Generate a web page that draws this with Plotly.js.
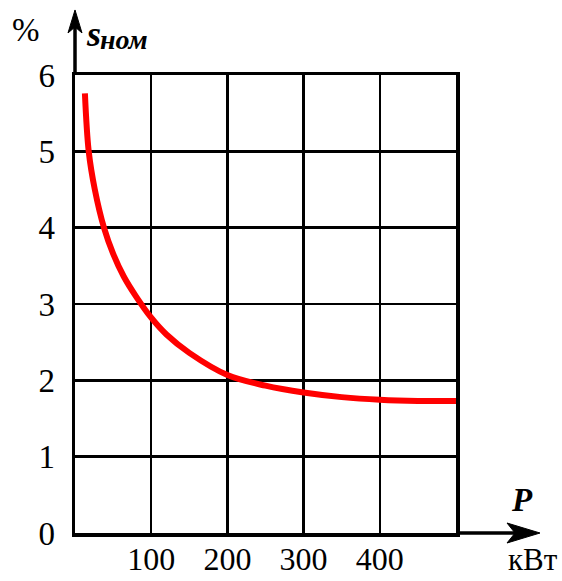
<!DOCTYPE html>
<html>
<head>
<meta charset="utf-8">
<script src="https://cdn.plot.ly/plotly-3.0.1.min.js"></script>
<style>
  html, body { margin: 0; padding: 0; background: #fff; }
  #chart { width: 562px; height: 581px; }
</style>
</head>
<body>
<div id="chart"></div>
<script>
// Data
const powerKW = [13, 18, 26, 38, 50, 64, 80, 100, 120, 150, 200, 250, 300, 350, 400, 450, 500];
const slipPct = [5.76, 5.0, 4.5, 4.0, 3.66, 3.36, 3.1, 2.82, 2.6, 2.36, 2.07, 1.93, 1.84, 1.78, 1.745, 1.73, 1.73];
const xTickVals = [100, 200, 300, 400, 500];
const xTickText = ['100', '200', '300', '400', ''];
const yTickVals = [0, 1, 2, 3, 4, 5, 6];
const yTickText = ['0', '1', '2', '3', '4', '5', '6'];

const serif = 'Liberation Serif, Times New Roman, serif';

const trace = {
  x: powerKW,
  y: slipPct,
  type: 'scatter',
  mode: 'lines',
  line: { color: '#ff0000', width: 6, shape: 'spline', smoothing: 1 },
  hoverinfo: 'skip'
};

const layout = {
  width: 562,
  height: 581,
  margin: { l: 75, r: 106, t: 75, b: 48 },
  paper_bgcolor: '#ffffff',
  plot_bgcolor: '#ffffff',
  showlegend: false,
  xaxis: {
    range: [0, 500],
    tickmode: 'array',
    tickvals: xTickVals,
    ticktext: xTickText,
    showgrid: true,
    gridcolor: '#000000',
    gridwidth: 2.5,
    zeroline: false,
    showline: true,
    linecolor: '#000000',
    linewidth: 3.5,
    mirror: true,
    ticks: '',
    ticklabelstandoff: -5,
    tickfont: { family: serif, size: 32, color: '#000' },
    fixedrange: true
  },
  yaxis: {
    range: [0, 6],
    tickmode: 'array',
    tickvals: yTickVals,
    ticktext: yTickText,
    showgrid: true,
    gridcolor: '#000000',
    gridwidth: 2.5,
    zeroline: false,
    showline: true,
    linecolor: '#000000',
    linewidth: 3.5,
    mirror: true,
    ticks: '',
    ticklabelstandoff: 10,
    tickfont: { family: serif, size: 33, color: '#000' },
    fixedrange: true
  },
  shapes: [
    // y-axis extension + arrowhead
    { type: 'line', xref: 'paper', yref: 'paper', x0: 0, x1: 0, y0: 1, y1: 1.12,
      line: { color: '#000', width: 3.5 } },
    { type: 'path', xref: 'paper', yref: 'paper', xsizemode: 'pixel', ysizemode: 'pixel',
      xanchor: 0, yanchor: 1.142, path: 'M0,0 L-7,-23 L0,-17 L7,-23 Z',
      fillcolor: '#000', line: { color: '#000', width: 1 } },
    // x-axis extension + arrowhead
    { type: 'line', xref: 'paper', yref: 'paper', x0: 1, x1: 1.19, y0: 0, y1: 0,
      line: { color: '#000', width: 3.5 } },
    { type: 'path', xref: 'paper', yref: 'paper', xsizemode: 'pixel', ysizemode: 'pixel',
      xanchor: 1.2205, yanchor: 0, path: 'M0,0 L-33,10 L-25,0 L-33,-10 Z',
      fillcolor: '#000', line: { color: '#000', width: 1 } }
  ],
  annotations: [
    { text: '%', xref: 'paper', yref: 'paper', x: -0.1286, y: 1.098,
      xanchor: 'center', yanchor: 'middle', showarrow: false,
      font: { family: serif, size: 33, color: '#000' } },
    { text: '<b><i>s</i></b>', xref: 'paper', yref: 'paper', x: (84 - 75) / 381, y: (533 - 34) / 458,
      xanchor: 'left', yanchor: 'middle', showarrow: false,
      font: { family: serif, size: 36, color: '#000' } },
    { text: '<b><i>ном</i></b>', xref: 'paper', yref: 'paper', x: (98 - 75) / 381, y: (533 - 40) / 458,
      xanchor: 'left', yanchor: 'middle', showarrow: false,
      font: { family: serif, size: 28, color: '#000' } },
    { text: '<b><i>P</i></b>', xref: 'paper', yref: 'paper', x: 1.173, y: 0.072,
      xanchor: 'center', yanchor: 'middle', showarrow: false,
      font: { family: serif, size: 33, color: '#000' } },
    { text: 'кВт', xref: 'paper', yref: 'paper', x: 1.203, y: -0.058,
      xanchor: 'center', yanchor: 'middle', showarrow: false,
      font: { family: serif, size: 31, color: '#000' } }
  ]
};

Plotly.newPlot('chart', [trace], layout, { staticPlot: true, displayModeBar: false });
</script>
</body>
</html>
